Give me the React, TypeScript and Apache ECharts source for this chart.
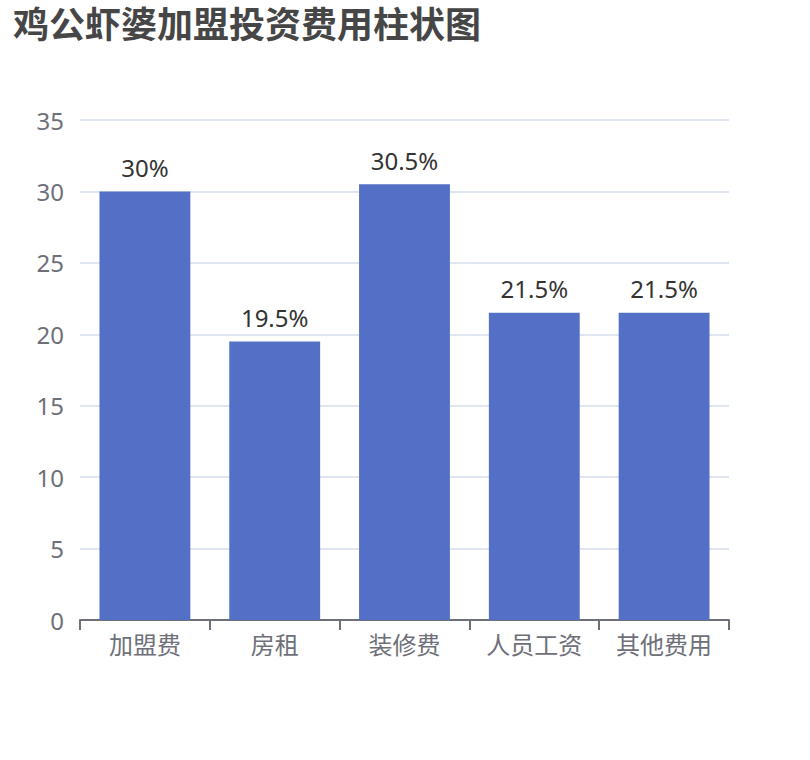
import { useEffect, useRef } from "react";
import * as echarts from "echarts";

const TITLE = "鸡公虾婆加盟投资费用柱状图";
const categories = ["加盟费", "房租", "装修费", "人员工资", "其他费用"];
const values = [30, 19.5, 30.5, 21.5, 21.5];
const yTicks = { min: 0, max: 35, interval: 5 };

const FONT = "'Noto Sans', 'Noto Sans CJK SC', sans-serif";

export default function App() {
  const elRef = useRef<HTMLDivElement | null>(null);

  useEffect(() => {
    document.body.style.margin = "0";
    if (!elRef.current) return;
    const chart = echarts.init(elRef.current, undefined, { renderer: "svg" });
    chart.setOption({
      animation: false,
      backgroundColor: "#fff",
      textStyle: { fontFamily: FONT },
      title: {
        text: TITLE,
        left: 8,
        top: 1,
        textStyle: { fontSize: 36, fontWeight: "bold", color: "#464646", fontFamily: FONT },
      },
      grid: { left: 80, right: 81, top: 120, bottom: 140 },
      xAxis: {
        type: "category",
        data: categories,
        axisLine: { lineStyle: { color: "#6E7079", width: 2 } },
        axisTick: { show: true, length: 10, lineStyle: { color: "#6E7079", width: 2 } },
        axisLabel: { fontSize: 24, color: "#6E7079", margin: 12 },
      },
      yAxis: {
        type: "value",
        ...yTicks,
        axisLabel: { fontSize: 24, color: "#6E7079", margin: 16 },
        splitLine: { lineStyle: { color: "#E0E6F1", width: 2 } },
      },
      series: [
        {
          type: "bar",
          data: values,
          barWidth: "70%",
          itemStyle: { color: "#5470c6" },
          label: {
            show: true,
            position: "top",
            distance: 12,
            fontSize: 24,
            color: "#333",
            formatter: (p: { value: number }) => `${p.value}%`,
          },
        },
      ],
    });
    return () => chart.dispose();
  }, []);

  return <div ref={elRef} style={{ width: 810, height: 760 }} />;
}
